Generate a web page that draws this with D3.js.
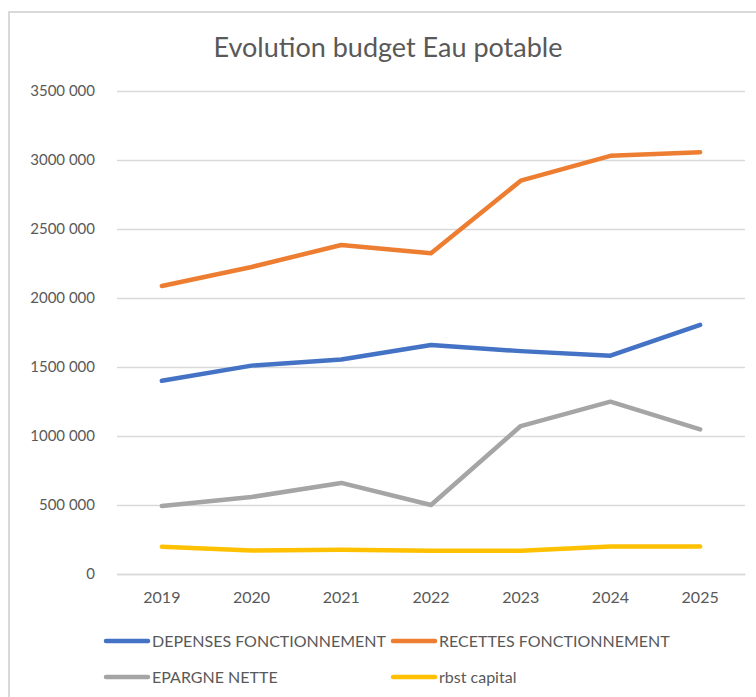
<!DOCTYPE html>
<html><head><meta charset="utf-8">
<script src="https://cdn.jsdelivr.net/npm/d3@7"></script>
<style>body{margin:0;background:#fff}svg{display:block}</style>
</head><body>
<script>
const years = ["2019","2020","2021","2022","2023","2024","2025"];
const depenses = [1400000, 1510000, 1555000, 1660000, 1615000, 1582000, 1805000];
const recettes = [2087000, 2225000, 2384000, 2324000, 2850000, 3030000, 3056000];
const epargne = [493000, 558000, 660000, 500000, 1072000, 1249000, 1048000];
const rbst = [198000, 170000, 176000, 169000, 168000, 200000, 200000];
const yTicks = [0, 500000, 1000000, 1500000, 2000000, 2500000, 3000000, 3500000];
const seriesNames = ["DEPENSES FONCTIONNEMENT","RECETTES FONCTIONNEMENT","EPARGNE NETTE","rbst capital"];
const seriesColors = ["#4472C4","#ED7D31","#A5A5A5","#FFC000"];
const seriesValues = [depenses, recettes, epargne, rbst];

const W = 756, H = 697;
const svg = d3.select("body").append("svg").attr("width", W).attr("height", H);
const font = "Lato, 'Open Sans', sans-serif";

svg.append("rect").attr("x", 9).attr("y", 12).attr("width", W + 10).attr("height", H + 10)
  .attr("fill", "#fff").attr("stroke", "#D9D9D9").attr("stroke-width", 2);

svg.append("text").attr("x", 388).attr("y", 57).attr("text-anchor", "middle")
  .attr("font-family", font).attr("font-size", 27).attr("fill", "#595959")
  .text("Evolution budget Eau potable");

const x = d3.scaleBand().domain(years).range([117, 745]);
const y = d3.scaleLinear().domain([0, 3500000]).range([574, 91]);

const fmt = v => v === 0 ? "0" : d3.format(",")(v).replace(/,(?=\d{3}$)/, " ").replace(/,/g, "");

const gy = svg.append("g").attr("transform", "translate(117,0)")
  .call(d3.axisLeft(y).tickValues(yTicks).tickSize(-(745 - 117)).tickPadding(22).tickFormat(fmt));
gy.select(".domain").remove();
gy.selectAll(".tick line").attr("stroke", "#D9D9D9").attr("stroke-width", 1.5);
gy.selectAll(".tick text").attr("font-family", font).attr("font-size", 15).attr("fill", "#595959");

const gx = svg.append("g").attr("transform", "translate(0,574)")
  .call(d3.axisBottom(x).tickSize(0).tickPadding(18));
gx.select(".domain").attr("stroke", "#D9D9D9").attr("stroke-width", 1.5);
gx.selectAll(".tick text").attr("font-family", font).attr("font-size", 16).attr("fill", "#595959");

const line = d3.line().x((d, i) => x(years[i]) + x.bandwidth() / 2).y(d => y(d));
seriesValues.forEach((vals, k) => {
  svg.append("path").datum(vals).attr("d", line).attr("fill", "none")
    .attr("stroke", seriesColors[k]).attr("stroke-width", 4.5)
    .attr("stroke-linecap", "round").attr("stroke-linejoin", "round");
});

const legPos = [[106, 641], [393, 641], [106, 677], [393, 677]];
seriesNames.forEach((n, k) => {
  const [lx, ly] = legPos[k];
  svg.append("line").attr("x1", lx).attr("x2", lx + 42).attr("y1", ly).attr("y2", ly)
    .attr("stroke", seriesColors[k]).attr("stroke-width", 4.5).attr("stroke-linecap", "round");
  svg.append("text").attr("x", lx + 46).attr("y", ly + 5.5).attr("font-family", font)
    .attr("font-size", 16).attr("fill", "#595959").text(n);
});
</script>
</body></html>
